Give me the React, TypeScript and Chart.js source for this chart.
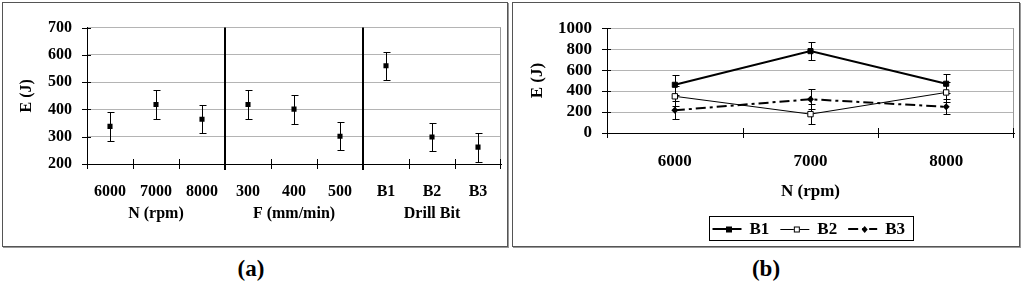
import React, { useEffect, useRef } from "react";
import { Chart, registerables } from "chart.js";

Chart.register(...registerables);

// ---------- Data ----------
const factorLabels = ["6000", "7000", "8000", "300", "400", "500", "B1", "B2", "B3"];
const groupLabels = ["N (rpm)", "F (mm/min)", "Drill Bit"];
const factorMeans = [338, 418, 364, 418, 401, 302, 560, 299, 262];
const factorErrors = [52, 52, 52, 52, 53, 52, 52, 52, 53];

const speedLabels = ["6000", "7000", "8000"];
const seriesNames = ["B1", "B2", "B3"];
const b1Values = [460, 781, 470];
const b2Values = [350, 180, 387];
const b3Values = [217, 322, 250];
const b1Errors = [93, 85, 92];
const b2Errors = [95, 98, 95];
const b3Errors = [87, 96, 72];

const SERIF = "'Liberation Serif', 'Times New Roman', serif";

// ---------- Plugins ----------
const errorBarPlugin = {
  id: "errorBars",
  beforeDatasetsDraw(chart: any, _args: any, opts: any) {
    const ctx = chart.ctx;
    const ys = chart.scales.y;
    const cap = (opts && opts.cap) || 3;
    chart.data.datasets.forEach((ds: any, i: number) => {
      const errs = ds.errorBars;
      if (!errs) return;
      const meta = chart.getDatasetMeta(i);
      ctx.save();
      ctx.strokeStyle = "#000";
      ctx.lineWidth = 1;
      ctx.setLineDash([]);
      meta.data.forEach((pt: any, j: number) => {
        const v = ds.data[j];
        const e = errs[j];
        const x = Math.round(pt.x) + 0.5;
        const yt = Math.round(ys.getPixelForValue(v + e)) + 0.5;
        const yb = Math.round(ys.getPixelForValue(v - e)) + 0.5;
        ctx.beginPath();
        ctx.moveTo(x, yt);
        ctx.lineTo(x, yb);
        ctx.moveTo(x - cap, yt);
        ctx.lineTo(x + cap + 1, yt);
        ctx.moveTo(x - cap, yb);
        ctx.lineTo(x + cap + 1, yb);
        ctx.stroke();
      });
      ctx.restore();
    });
  },
};

const framePlugin = {
  id: "frame",
  beforeDatasetsDraw(chart: any, _args: any, opts: any) {
    const ctx = chart.ctx;
    const { left, right, top, bottom } = chart.chartArea;
    ctx.save();
    ctx.strokeStyle = "#9a9a9a";
    ctx.lineWidth = 1;
    ctx.beginPath();
    ctx.moveTo(Math.round(right) - 0.5, top);
    ctx.lineTo(Math.round(right) - 0.5, bottom);
    ctx.stroke();
    const n = chart.data.labels.length;
    const w = (right - left) / n;
    (opts.separators || []).forEach((idx: number) => {
      const x = Math.round(left + idx * w);
      ctx.strokeStyle = "#000";
      ctx.lineWidth = 2;
      ctx.beginPath();
      ctx.moveTo(x, top);
      ctx.lineTo(x, bottom + 6);
      ctx.stroke();
    });
    ctx.restore();
  },
  afterDraw(chart: any, _args: any, opts: any) {
    const ctx = chart.ctx;
    const { left, right, bottom } = chart.chartArea;
    const ys = chart.scales.y;
    const n = chart.data.labels.length;
    const w = (right - left) / n;
    ctx.save();
    ctx.strokeStyle = "#000";
    ctx.lineWidth = 1;
    ctx.beginPath();
    ys.ticks.forEach((t: any) => {
      const y = Math.round(ys.getPixelForValue(t.value)) + 0.5;
      ctx.moveTo(left - 5, y);
      ctx.lineTo(left + 4, y);
    });
    for (let i = 0; i <= n; i++) {
      const x = Math.round(left + i * w) + 0.5 - (i === n ? 1 : 0);
      ctx.moveTo(x, bottom - 5);
      ctx.lineTo(x, bottom + 5);
    }
    ctx.stroke();
    const groups = opts.groups || [];
    if (groups.length) {
      const per = n / groups.length;
      ctx.fillStyle = "#000";
      ctx.font = "bold 16px " + SERIF;
      ctx.textAlign = "center";
      ctx.textBaseline = "middle";
      groups.forEach((g: string, gi: number) => {
        const cx = left + (gi + 0.5) * per * w;
        ctx.fillText(g, cx, bottom + opts.groupOffset);
      });
    }
    ctx.restore();
  },
};

const legendPlugin = {
  id: "boxLegend",
  afterDraw(chart: any, _args: any, opts: any) {
    if (!opts || !opts.show) return;
    const ctx = chart.ctx;
    const { left, right, bottom } = chart.chartArea;
    const dss = chart.data.datasets;
    ctx.save();
    ctx.font = "bold 17px " + SERIF;
    const lineLen = 29;
    const gapLT = 8;
    const gapTL = 11;
    const padL = 3;
    const padR = 8;
    const widths = dss.map((d: any) => ctx.measureText(d.label).width);
    let total = padL + padR;
    widths.forEach((tw: number, i: number) => {
      total += lineLen + gapLT + tw + (i < widths.length - 1 ? gapTL : 0);
    });
    const cx = (left + right) / 2;
    const bx = Math.round(cx - total / 2) + 0.5;
    const by = Math.round(bottom + opts.offsetY) + 0.5;
    const bh = 24;
    ctx.strokeStyle = "#000";
    ctx.lineWidth = 1;
    ctx.setLineDash([]);
    ctx.strokeRect(bx, by, Math.round(total), bh);
    const cy = by + bh / 2;
    let x = bx + padL;
    dss.forEach((d: any, i: number) => {
      ctx.save();
      ctx.strokeStyle = "#000";
      ctx.lineWidth = d.borderWidth;
      ctx.setLineDash(d.borderDash || []);
      ctx.beginPath();
      ctx.moveTo(x, Math.round(cy) + (d.borderWidth % 2 ? 0.5 : 0));
      ctx.lineTo(x + lineLen, Math.round(cy) + (d.borderWidth % 2 ? 0.5 : 0));
      ctx.stroke();
      ctx.setLineDash([]);
      const mx = x + lineLen / 2 + 2;
      const my = Math.round(cy) + 0.5;
      ctx.lineWidth = 1;
      if (d.pointStyle === "rect") {
        if (d.pointBackgroundColor === "#fff") {
          ctx.fillStyle = "#fff";
          ctx.fillRect(mx - 3, my - 3, 6, 6);
          ctx.strokeRect(mx - 2.5, my - 2.5, 5, 5);
        } else {
          ctx.fillStyle = "#000";
          ctx.fillRect(mx - 3, my - 3, 6, 6);
        }
      } else {
        ctx.fillStyle = "#000";
        ctx.beginPath();
        ctx.moveTo(mx, my - 3.5);
        ctx.lineTo(mx + 3, my);
        ctx.lineTo(mx, my + 3.5);
        ctx.lineTo(mx - 3, my);
        ctx.closePath();
        ctx.fill();
      }
      ctx.restore();
      x += lineLen + gapLT;
      ctx.fillStyle = "#000";
      ctx.textAlign = "left";
      ctx.textBaseline = "middle";
      ctx.fillText(d.label, x, cy + 1);
      x += widths[i] + gapTL;
    });
    ctx.restore();
  },
};

const plainNumber = (v: any) => String(v);

// ---------- Components ----------
function FactorChart() {
  const ref = useRef<HTMLCanvasElement | null>(null);
  useEffect(() => {
    if (!ref.current) return;
    const font = { family: SERIF, size: 16, weight: "bold" as const };
    const chart = new Chart(ref.current, {
      type: "line",
      data: {
        labels: factorLabels,
        datasets: [
          {
            label: "E",
            data: factorMeans,
            errorBars: factorErrors,
            showLine: false,
            pointStyle: "rect",
            pointRadius: 3.6,
            pointBorderWidth: 0,
            backgroundColor: "#000",
            borderColor: "#000",
          } as any,
        ],
      },
      options: {
        animation: false,
        responsive: false,
        maintainAspectRatio: false,
        layout: { padding: { top: 23, right: 6, left: 0, bottom: 0 } },
        plugins: {
          legend: { display: false },
          tooltip: { enabled: false },
          errorBars: { cap: 3 },
          frame: { separators: [3, 6], groups: groupLabels, groupOffset: 50 },
        } as any,
        scales: {
          x: {
            type: "category",
            offset: true,
            grid: { display: false, drawTicks: false },
            border: { display: true, color: "#000", width: 1 },
            ticks: { font, color: "#000", padding: 18.4, maxRotation: 0, autoSkip: false },
            afterFit: (s: any) => {
              s.height = 82;
            },
          },
          y: {
            min: 200,
            max: 700,
            ticks: { stepSize: 100, font, color: "#000", padding: 15, autoSkip: false, callback: plainNumber },
            grid: { color: "#b4b4b4", drawTicks: false },
            border: { display: true, color: "#000", width: 1 },
            title: { display: true, text: "E (J)", font, color: "#000", padding: { top: 14.4, bottom: 0 } },
            afterFit: (s: any) => {
              s.width = 84;
            },
          },
        },
      } as any,
      plugins: [errorBarPlugin, framePlugin],
    });
    return () => chart.destroy();
  }, []);
  return <canvas ref={ref} width={504} height={243} style={{ display: "block" }} />;
}

function SpeedChart() {
  const ref = useRef<HTMLCanvasElement | null>(null);
  useEffect(() => {
    if (!ref.current) return;
    const font = { family: SERIF, size: 17, weight: "bold" as const };
    const chart = new Chart(ref.current, {
      type: "line",
      data: {
        labels: speedLabels,
        datasets: [
          {
            label: seriesNames[0],
            data: b1Values,
            errorBars: b1Errors,
            borderColor: "#000",
            borderWidth: 2,
            pointStyle: "rect",
            pointRadius: 3.6,
            pointBorderWidth: 1,
            pointBackgroundColor: "#000",
            pointBorderColor: "#000",
            backgroundColor: "#000",
          },
          {
            label: seriesNames[1],
            data: b2Values,
            errorBars: b2Errors,
            borderColor: "#000",
            borderWidth: 1,
            pointStyle: "rect",
            pointRadius: 3.8,
            pointBorderWidth: 1,
            pointBackgroundColor: "#fff",
            pointBorderColor: "#000",
            backgroundColor: "#fff",
          },
          {
            label: seriesNames[2],
            data: b3Values,
            errorBars: b3Errors,
            borderColor: "#000",
            borderWidth: 2,
            borderDash: [10, 4, 3, 4],
            pointStyle: "rectRot",
            pointRadius: 3.5,
            pointBorderWidth: 0,
            pointBackgroundColor: "#000",
            pointBorderColor: "#000",
            backgroundColor: "#000",
          },
        ] as any,
      },
      options: {
        animation: false,
        responsive: false,
        maintainAspectRatio: false,
        layout: { padding: { top: 23, right: 5, left: 0, bottom: 40 } },
        plugins: {
          legend: { display: false },
          tooltip: { enabled: false },
          errorBars: { cap: 3 },
          frame: { separators: [], groups: [] },
          boxLegend: { show: true, offsetY: 83 },
        } as any,
        scales: {
          x: {
            type: "category",
            offset: true,
            grid: { display: false, drawTicks: false },
            border: { display: true, color: "#000", width: 1 },
            ticks: { font, color: "#000", padding: 18.8, maxRotation: 0, autoSkip: false },
            title: { display: true, text: "N (rpm)", font, color: "#000", padding: { top: 0, bottom: 3.8 } },
            afterFit: (s: any) => {
              s.height = 73;
            },
          },
          y: {
            min: 0,
            max: 1000,
            ticks: { stepSize: 200, font, color: "#000", padding: 15, autoSkip: false, callback: plainNumber },
            grid: { color: "#b4b4b4", drawTicks: false },
            border: { display: true, color: "#000", width: 1 },
            title: { display: true, text: "E (J)", font, color: "#000", padding: { top: 14.8, bottom: 0 } },
            afterFit: (s: any) => {
              s.width = 94;
            },
          },
        },
      } as any,
      plugins: [errorBarPlugin, framePlugin, legendPlugin],
    });
    return () => chart.destroy();
  }, []);
  return <canvas ref={ref} width={506} height={243} style={{ display: "block" }} />;
}

const panelStyle: React.CSSProperties = {
  position: "absolute",
  boxSizing: "border-box",
  border: "1px solid #555",
  boxShadow: "1px 1px 0 #999",
  background: "#fff",
};

const captionStyle: React.CSSProperties = {
  position: "absolute",
  top: 254,
  width: 60,
  textAlign: "center",
  fontFamily: SERIF,
  fontSize: 23,
  fontWeight: "bold",
  lineHeight: "30px",
  color: "#000",
};

export default function App() {
  return (
    <div style={{ position: "absolute", left: 0, top: 0, width: 1024, height: 288, background: "#fff", overflow: "hidden" }}>
      <div style={{ ...panelStyle, left: 2, top: 2, width: 506, height: 245 }}>
        <FactorChart />
      </div>
      <div style={{ ...panelStyle, left: 512, top: 2, width: 508, height: 245 }}>
        <SpeedChart />
      </div>
      <div style={{ ...captionStyle, left: 251 - 30 }}>(a)</div>
      <div style={{ ...captionStyle, left: 766 - 30 }}>(b)</div>
    </div>
  );
}
